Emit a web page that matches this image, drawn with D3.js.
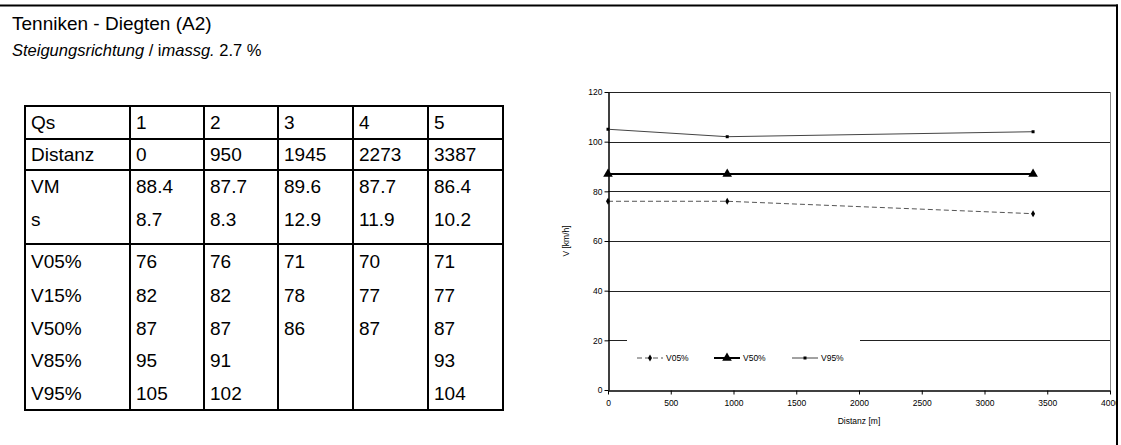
<!DOCTYPE html>
<html><head><meta charset="utf-8">
<script src="https://cdn.jsdelivr.net/npm/d3@7/dist/d3.min.js"></script>
<style>
html,body{margin:0;padding:0;background:#fff;}
svg{display:block;font-family:"Liberation Sans",Arial,sans-serif;}
</style></head>
<body>
<svg id="c" width="1121" height="445"></svg>
<script>
// ---------- data ----------
const rowLabels = ["Qs","Distanz","VM","s","V05%","V15%","V50%","V85%","V95%"];
const qs      = ["1","2","3","4","5"];
const distanz = [0, 950, 1945, 2273, 3387];
const vm      = [88.4, 87.7, 89.6, 87.7, 86.4];
const sDev    = [8.7, 8.3, 12.9, 11.9, 10.2];
const v05     = [76, 76, 71, 70, 71];
const v15     = [82, 82, 78, 77, 77];
const v50     = [87, 87, 86, 87, 87];
const v85     = [95, 91, null, null, 93];
const v95     = [105, 102, null, null, 104];
const plotted = [0, 1, 4];           // sections shown in the chart
const yTicks  = [0, 20, 40, 60, 80, 100, 120];
const xTicks  = [0, 500, 1000, 1500, 2000, 2500, 3000, 3500, 4000];

const svg = d3.select("#c");

// ---------- title ----------
svg.append("text").attr("x",12).attr("y",30).attr("font-size",19).text("Tenniken - Diegten (A2)");
const t2 = svg.append("text").attr("x",12).attr("y",56).attr("font-size",16.5);
t2.append("tspan").attr("font-style","italic").text("Steigungsrichtung");
t2.append("tspan").text(" / i");
t2.append("tspan").attr("font-style","italic").text("massg.");
t2.append("tspan").text(" 2.7 %");

// ---------- table ----------
const fmt = v => v == null ? "" : String(v);
const rows = [qs, distanz, vm, sDev, v05, v15, v50, v85, v95].map(a => a.map(fmt));
const colX = [25, 130, 204, 278, 353, 428, 503];
const rowY = [106, 139, 170, 202, 244, 279, 312, 344, 376, 410];
const tg = svg.append("g");
rowLabels.forEach((lab, i) => {
  const cy = i === 3 ? 219 : (rowY[i] + rowY[i+1]) / 2;
  tg.append("text").attr("x", colX[0] + 6).attr("y", cy).attr("dy","0.35em").attr("font-size",19).text(lab);
  rows[i].forEach((v, j) => {
    tg.append("text").attr("x", colX[j+1] + 6).attr("y", cy).attr("dy","0.35em").attr("font-size",19).text(v);
  });
});
// horizontal lines: top, after Qs, after Distanz, after s, bottom
[0,1,2,4,9].forEach(k => {
  tg.append("line").attr("x1",colX[0]-1).attr("x2",colX[colX.length-1]+1)
    .attr("y1",rowY[k]).attr("y2",rowY[k]).attr("stroke","#000").attr("stroke-width",2);
});
colX.forEach(x => {
  tg.append("line").attr("x1",x).attr("x2",x).attr("y1",rowY[0]).attr("y2",rowY[9]).attr("stroke","#000").attr("stroke-width",2);
});

// ---------- chart ----------
const pL = 608, pR = 1110, pT = 92, pB = 390;
const x = d3.scaleLinear().domain([0,4000]).range([pL,pR]);
const y = d3.scaleLinear().domain([0,120]).range([pB,pT]);

const cg = svg.append("g");
yTicks.filter(t => t > 0).forEach(t => {
  cg.append("line").attr("x1",pL).attr("x2",pR).attr("y1",Math.round(y(t))+0.5).attr("y2",Math.round(y(t))+0.5)
    .attr("stroke","#222").attr("stroke-width",1);
});
cg.append("line").attr("x1",pR+0.5).attr("x2",pR+0.5).attr("y1",pT).attr("y2",pB).attr("stroke","#888").attr("stroke-width",1);

const yAxis = d3.axisLeft(y).tickValues(yTicks).tickSize(4).tickSizeOuter(0).tickFormat(d3.format("d"));
const xAxis = d3.axisBottom(x).tickValues(xTicks).tickSize(4).tickSizeOuter(0).tickFormat(d3.format("d"));
const ya = cg.append("g").attr("transform",`translate(${pL+0.5},0)`).call(yAxis);
const xa = cg.append("g").attr("transform",`translate(0,${pB+0.5})`).call(xAxis);
[ya, xa].forEach(a => {
  a.select(".domain").attr("stroke","#000").attr("stroke-width",1.5);
  a.selectAll(".tick line").attr("stroke","#000");
  a.selectAll(".tick text").attr("font-size",8.5).attr("fill","#000").attr("font-family","'Liberation Sans',Arial,sans-serif");
});
ya.selectAll(".tick text").attr("x",-6);
xa.selectAll(".tick text").attr("y",9);

cg.append("text").attr("transform",`translate(569,${(pT+pB)/2}) rotate(-90)`).attr("text-anchor","middle")
  .attr("font-size",8.5).text("V [km/h]");
cg.append("text").attr("x",(pL+pR)/2).attr("y",424).attr("text-anchor","middle").attr("font-size",8.5).text("Distanz [m]");

const series = [
  {name:"V05%", vals:v05, stroke:"#555", width:1, dash:"5,3", marker:"diamond"},
  {name:"V50%", vals:v50, stroke:"#000", width:2, dash:null, marker:"triangle"},
  {name:"V95%", vals:v95, stroke:"#444", width:1, dash:null, marker:"square"}
];
const sym = {
  diamond: d3.symbol().type(d3.symbolDiamond).size(14),
  triangle: d3.symbol().type(d3.symbolTriangle).size(40),
  square: d3.symbol().type(d3.symbolSquare).size(9)
};
const line = d3.line().x(d => x(d.d)).y(d => y(d.v));
series.forEach(s => {
  const pts = plotted.map(i => ({d: distanz[i], v: s.vals[i]}));
  cg.append("path").datum(pts).attr("d", line).attr("fill","none")
    .attr("stroke", s.stroke).attr("stroke-width", s.width).attr("stroke-dasharray", s.dash);
  cg.selectAll(null).data(pts).enter().append("path")
    .attr("transform", d => `translate(${x(d.d)},${y(d.v)})`)
    .attr("d", sym[s.marker]).attr("fill","#000");
});

const lg = cg.append("g");
lg.append("rect").attr("x",627).attr("y",332).attr("width",233).attr("height",48).attr("fill","#fff");
const legX = [637, 714, 792];
series.forEach((s, k) => {
  const ly = 358;
  lg.append("line").attr("x1",legX[k]).attr("x2",legX[k]+26).attr("y1",ly).attr("y2",ly)
    .attr("stroke", s.stroke).attr("stroke-width", s.width).attr("stroke-dasharray", s.dash);
  lg.append("path").attr("transform",`translate(${legX[k]+13},${ly})`).attr("d", sym[s.marker]).attr("fill","#000");
  lg.append("text").attr("x",legX[k]+29).attr("y",ly).attr("dy","0.35em").attr("font-size",8.5).text(s.name);
});

// ---------- frame (on top, clips the last tick label) ----------
svg.append("rect").attr("x",1118).attr("y",0).attr("width",3).attr("height",445).attr("fill","#fff");
svg.append("line").attr("x1",0).attr("x2",1118).attr("y1",5.5).attr("y2",5.5).attr("stroke","#000").attr("stroke-width",2);
svg.append("line").attr("x1",1117).attr("x2",1117).attr("y1",4.5).attr("y2",445).attr("stroke","#000").attr("stroke-width",2);
</script>
</body></html>
